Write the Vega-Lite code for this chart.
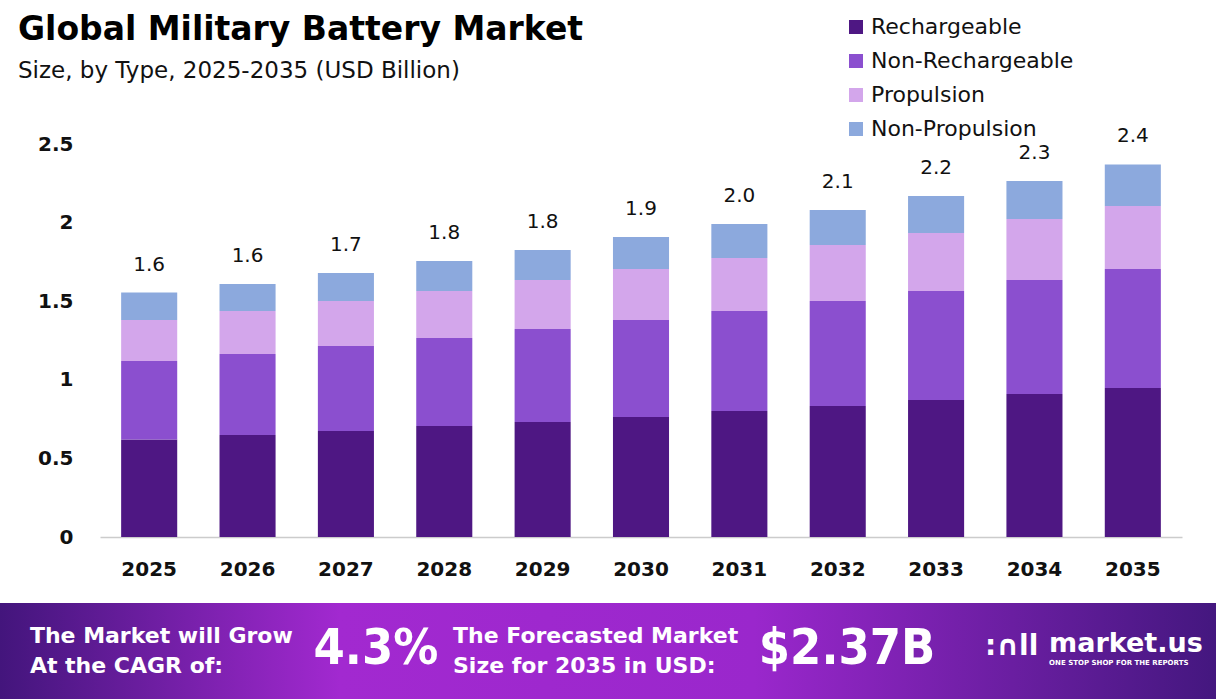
{
  "$schema": "https://vega.github.io/schema/vega-lite/v6.json",
  "padding": 0,
  "background": "#ffffff",
  "spacing": 0,
  "config": {
    "font": "DejaVu Sans",
    "view": {"stroke": null},
    "concat": {"spacing": 0}
  },
  "datasets": {
    "market": [
      {"year": "2025", "type": "Rechargeable", "value": 0.62},
      {"year": "2025", "type": "Non-Rechargeable", "value": 0.5},
      {"year": "2025", "type": "Propulsion", "value": 0.26},
      {"year": "2025", "type": "Non-Propulsion", "value": 0.175},
      {"year": "2026", "type": "Rechargeable", "value": 0.649},
      {"year": "2026", "type": "Non-Rechargeable", "value": 0.515},
      {"year": "2026", "type": "Propulsion", "value": 0.274},
      {"year": "2026", "type": "Non-Propulsion", "value": 0.171},
      {"year": "2027", "type": "Rechargeable", "value": 0.674},
      {"year": "2027", "type": "Non-Rechargeable", "value": 0.541},
      {"year": "2027", "type": "Propulsion", "value": 0.286},
      {"year": "2027", "type": "Non-Propulsion", "value": 0.178},
      {"year": "2028", "type": "Rechargeable", "value": 0.706},
      {"year": "2028", "type": "Non-Rechargeable", "value": 0.56},
      {"year": "2028", "type": "Propulsion", "value": 0.299},
      {"year": "2028", "type": "Non-Propulsion", "value": 0.191},
      {"year": "2029", "type": "Rechargeable", "value": 0.732},
      {"year": "2029", "type": "Non-Rechargeable", "value": 0.591},
      {"year": "2029", "type": "Propulsion", "value": 0.312},
      {"year": "2029", "type": "Non-Propulsion", "value": 0.191},
      {"year": "2030", "type": "Rechargeable", "value": 0.763},
      {"year": "2030", "type": "Non-Rechargeable", "value": 0.617},
      {"year": "2030", "type": "Propulsion", "value": 0.325},
      {"year": "2030", "type": "Non-Propulsion", "value": 0.203},
      {"year": "2031", "type": "Rechargeable", "value": 0.802},
      {"year": "2031", "type": "Non-Rechargeable", "value": 0.636},
      {"year": "2031", "type": "Propulsion", "value": 0.337},
      {"year": "2031", "type": "Non-Propulsion", "value": 0.216},
      {"year": "2032", "type": "Rechargeable", "value": 0.833},
      {"year": "2032", "type": "Non-Rechargeable", "value": 0.668},
      {"year": "2032", "type": "Propulsion", "value": 0.357},
      {"year": "2032", "type": "Non-Propulsion", "value": 0.222},
      {"year": "2033", "type": "Rechargeable", "value": 0.872},
      {"year": "2033", "type": "Non-Rechargeable", "value": 0.693},
      {"year": "2033", "type": "Propulsion", "value": 0.369},
      {"year": "2033", "type": "Non-Propulsion", "value": 0.235},
      {"year": "2034", "type": "Rechargeable", "value": 0.91},
      {"year": "2034", "type": "Non-Rechargeable", "value": 0.725},
      {"year": "2034", "type": "Propulsion", "value": 0.388},
      {"year": "2034", "type": "Non-Propulsion", "value": 0.242},
      {"year": "2035", "type": "Rechargeable", "value": 0.948},
      {"year": "2035", "type": "Non-Rechargeable", "value": 0.757},
      {"year": "2035", "type": "Propulsion", "value": 0.401},
      {"year": "2035", "type": "Non-Propulsion", "value": 0.264}
    ]
  },
  "vconcat": [
    {
      "width": 1216,
      "height": 393,
      "title": {
        "text": "Global Military Battery Market",
        "subtitle": "Size, by Type, 2025-2035 (USD Billion)",
        "anchor": "start",
        "frame": "group",
        "orient": "top",
        "offset": 0,
        "dx": 18,
        "dy": 83,
        "font": "DejaVu Sans",
        "fontSize": 33,
        "fontWeight": "bold",
        "color": "#000000",
        "subtitleFont": "DejaVu Sans",
        "subtitleFontSize": 23,
        "subtitleColor": "#111111",
        "subtitlePadding": 13
      },
      "data": {"name": "market"},
      "layer": [
        {
          "mark": {"type": "bar"},
          "encoding": {
            "x": {
              "field": "year",
              "type": "ordinal",
              "scale": {"range": [100, 1182], "paddingInner": 0.43, "paddingOuter": 0.215},
              "axis": {
                "labelAngle": 0,
                "labelFontSize": 20,
                "labelFontWeight": "bold",
                "labelColor": "#111111",
                "labelPadding": 22,
                "ticks": false,
                "domainColor": "#cccccc",
                "domainWidth": 1.5,
                "title": ".",
                "titleColor": "#ffffff",
                "titleFontSize": 10,
                "titleX": 0,
                "titleY": 66,
                "titleBaseline": "bottom",
                "titleAlign": "left"
              }
            },
            "y": {
              "field": "value",
              "type": "quantitative",
              "stack": "zero",
              "scale": {"domain": [0, 2.5], "nice": false},
              "axis": {
                "offset": -100,
                "values": [0, 0.5, 1, 1.5, 2, 2.5],
                "format": "~g",
                "domain": false,
                "ticks": false,
                "grid": false,
                "labelFontSize": 20,
                "labelFontWeight": "bold",
                "labelColor": "#111111",
                "labelPadding": 27,
                "title": ".",
                "titleColor": "#ffffff",
                "titleFontSize": 10,
                "titleAngle": 0,
                "titleX": -100,
                "titleY": -144,
                "titleAlign": "left",
                "titleBaseline": "top"
              }
            },
            "order": {"field": "value", "type": "quantitative", "sort": "descending"},
            "color": {
              "field": "type",
              "type": "nominal",
              "sort": ["Rechargeable", "Non-Rechargeable", "Propulsion", "Non-Propulsion"],
              "scale": {
                "domain": ["Rechargeable", "Non-Rechargeable", "Propulsion", "Non-Propulsion"],
                "range": ["#4e1783", "#8b4fcf", "#d3a6eb", "#8ca9dd"]
              },
              "legend": {
                "orient": "none",
                "legendX": 845,
                "legendY": -128,
                "title": null,
                "padding": 0,
                "symbolType": "square",
                "symbolSize": 196,
                "symbolStrokeWidth": 0,
                "labelFont": "DejaVu Sans",
                "labelFontSize": 22,
                "labelColor": "#111111",
                "labelOffset": 4,
                "labelLimit": 400,
                "rowPadding": 12
              }
            }
          }
        },
        {
          "mark": {"type": "text", "fontSize": 20, "color": "#111111", "baseline": "alphabetic", "dy": -22},
          "encoding": {
            "x": {"field": "year", "type": "ordinal"},
            "y": {"field": "value", "type": "quantitative", "aggregate": "sum"},
            "text": {"field": "value", "type": "quantitative", "aggregate": "sum", "format": ".1f"}
          }
        }
      ]
    },
    {
      "width": 1216,
      "height": 96,
      "layer": [
        {
          "data": {"values": [{"band": "footer"}]},
          "mark": {
            "type": "rect",
            "color": {
              "gradient": "linear",
              "x1": 0, "y1": 0, "x2": 1, "y2": 0,
              "stops": [
                {"offset": 0, "color": "#43157c"},
                {"offset": 0.28, "color": "#a229d0"},
                {"offset": 0.62, "color": "#9a27cc"},
                {"offset": 1, "color": "#44177f"}
              ]
            }
          },
          "encoding": {}
        },
        {
          "data": {"values": [{"slot": "a", "text": "The Market will Grow\nAt the CAGR of:"}]},
          "mark": {"type": "text", "align": "left", "font": "DejaVu Sans", "fontSize": 22, "fontWeight": "bold", "color": "#ffffff", "lineBreak": "\n", "lineHeight": 30, "dx": -114, "dy": -15},
          "encoding": {
            "x": {"field": "slot", "type": "nominal", "scale": {"type": "point", "domain": ["a", "b", "c", "d", "e"], "padding": 0.62}, "axis": null},
            "text": {"field": "text"}
          }
        },
        {
          "data": {"values": [{"slot": "b", "text": "4.3%"}]},
          "mark": {"type": "text", "align": "center", "font": "Liberation Sans Narrow, DejaVu Sans Condensed, Inter", "fontSize": 50, "fontWeight": "bold", "color": "#ffffff", "dy": -2},
          "encoding": {
            "x": {"field": "slot", "type": "nominal", "axis": null},
            "text": {"field": "text"}
          }
        },
        {
          "data": {"values": [{"slot": "c", "text": "The Forecasted Market\nSize for 2035 in USD:"}]},
          "mark": {"type": "text", "align": "left", "font": "DejaVu Sans", "fontSize": 22, "fontWeight": "bold", "color": "#ffffff", "lineBreak": "\n", "lineHeight": 30, "dx": -155, "dy": -15},
          "encoding": {
            "x": {"field": "slot", "type": "nominal", "axis": null},
            "text": {"field": "text"}
          }
        },
        {
          "data": {"values": [{"slot": "d", "text": "$2.37B"}]},
          "mark": {"type": "text", "align": "center", "font": "Liberation Sans Narrow, DejaVu Sans Condensed, Inter", "fontSize": 50, "fontWeight": "bold", "color": "#ffffff", "dx": 7, "dy": -2},
          "encoding": {
            "x": {"field": "slot", "type": "nominal", "axis": null},
            "text": {"field": "text"}
          }
        },
        {
          "data": {"values": [{"slot": "e", "text": "market.us"}]},
          "mark": {"type": "text", "align": "left", "font": "DejaVu Sans", "fontSize": 27, "fontWeight": "bold", "color": "#ffffff", "dx": -23, "dy": -7},
          "encoding": {
            "x": {"field": "slot", "type": "nominal", "axis": null},
            "text": {"field": "text"}
          }
        },
        {
          "data": {"values": [{"slot": "e", "text": "ONE STOP SHOP FOR THE REPORTS"}]},
          "mark": {"type": "text", "align": "left", "font": "DejaVu Sans", "fontSize": 7, "fontWeight": "bold", "color": "#ffffff", "dx": -23, "dy": 12},
          "encoding": {
            "x": {"field": "slot", "type": "nominal", "axis": null},
            "text": {"field": "text"}
          }
        },
        {
          "data": {"values": [{"slot": "e", "text": ":∩ll"}]},
          "mark": {"type": "text", "align": "left", "font": "DejaVu Sans", "fontSize": 28, "fontWeight": "bold", "color": "#ffffff", "dx": -87, "dy": -4},
          "encoding": {
            "x": {"field": "slot", "type": "nominal", "axis": null},
            "text": {"field": "text"}
          }
        }
      ]
    }
  ]
}
